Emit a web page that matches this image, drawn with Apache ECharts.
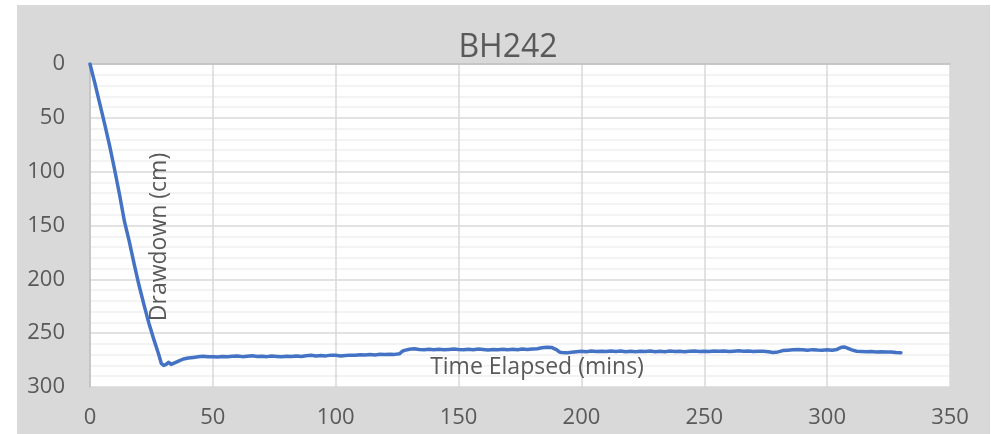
<!DOCTYPE html>
<html>
<head>
<meta charset="utf-8">
<script src="https://cdn.jsdelivr.net/npm/echarts@6/dist/echarts.min.js"></script>
<style>
  html, body { margin: 0; padding: 0; background: #ffffff; }
  #chart { width: 991px; height: 434px; }
</style>
</head>
<body>
<div id="chart"></div>
<script>
// Pumping test record for borehole BH242
const chartTitle = 'BH242';
const xAxisTitle = 'Time Elapsed (mins)';
const yAxisTitle = 'Drawdown (cm)';

// elapsed time, minutes
const timeMins = [
  0, 2, 4, 6, 8, 10, 12, 14, 16, 18, 20, 22, 24, 26, 28, 29, 30, 31, 32, 33, 34, 36, 38, 40,
  42, 44, 46, 48, 50, 52, 54, 56, 58, 60, 62, 64, 66, 68, 70, 72, 74, 76, 78, 80, 82, 84, 86, 88,
  90, 92, 94, 96, 98, 100, 102, 104, 106, 108, 110, 112, 114, 116, 118, 120, 122, 124, 126, 127, 128, 130,
  132, 134, 136, 138, 140, 142, 144, 146, 148, 150, 152, 154, 156, 158, 160, 162, 164, 166, 168, 170,
  172, 174, 176, 178, 180, 182, 184, 186, 188, 190, 191, 192, 194, 196, 198, 200, 202, 204, 206, 208,
  210, 212, 214, 216, 218, 220, 222, 224, 226, 228, 230, 232, 234, 236, 238, 240, 242, 244, 246, 248,
  250, 252, 254, 256, 258, 260, 262, 264, 266, 268, 270, 272, 274, 276, 278, 280, 282, 284, 286, 288,
  290, 292, 294, 296, 298, 300, 302, 304, 306, 307, 308, 310, 312, 314, 316, 318, 320, 322, 324, 326, 328, 330
];

// drawdown, cm
const drawdownCm = [
  0, 18, 37, 56, 76, 98, 121, 146, 165, 186, 206, 224, 241, 256, 270, 278, 280, 279, 277, 279, 278, 276, 274, 273,
  272.5, 272, 271.5, 272, 271.8, 272.2, 271.6, 272, 271.5, 271.2, 271.8, 271.4, 271, 271.6, 271.4, 271.8, 271.2, 271.6, 271.9, 271.5, 271.7, 271.2, 271.6, 271,
  270.6, 271.2, 270.8, 271.1, 270.4, 270.6, 271.2, 270.8, 270.4, 270.6, 270.1, 270.3, 269.8, 270.2, 269.6, 269.8, 269.5, 269.7, 269.2, 267, 266, 265,
  264.4, 265.1, 265.4, 264.9, 265.3, 265, 265.5, 265.1, 264.7, 265.2, 265.5, 265, 265.3, 264.8, 265.2, 265.6, 265.1, 265.4, 264.9, 265.3,
  265, 265.4, 264.8, 265.1, 264.6, 264.4, 263.6, 263, 263.4, 265.5, 267.5, 268, 268.3, 267.8, 267.2, 266.8, 267.2, 266.6, 267, 266.7,
  267.1, 266.5, 267, 266.6, 267.2, 266.8, 267.2, 266.7, 267, 266.6, 267.3, 266.9, 267.2, 266.6, 267, 266.8, 267.3, 266.9, 266.6, 267.1,
  266.8, 267, 266.5, 266.9, 266.6, 267.1, 266.8, 266.4, 266.8, 266.5, 267, 266.7, 266.9, 267.3, 268, 267.4, 266.2, 265.8, 265.5, 265.2,
  265.4, 265.9, 265.3, 265.7, 265.9, 265.5, 265.9, 265.1, 263, 262.8, 263.6, 265.5, 266.8, 267, 267.3, 267, 267.5, 267.2, 267.6, 267.4, 268, 268.3
];

const seriesData = timeMins.map((t, i) => [t, drawdownCm[i]]);

const labelFont = '"Open Sans", "Noto Sans", sans-serif';
const textGrey = '#595959';

const chart = echarts.init(document.getElementById('chart'), null, { renderer: 'canvas' });

chart.setOption({
  animation: false,
  backgroundColor: '#ffffff',
  title: {
    text: chartTitle,
    left: 503,
    textAlign: 'center',
    top: 27,
    textStyle: { fontFamily: labelFont, fontSize: 32, fontWeight: 'normal', color: textGrey }
  },
  graphic: [
    {
      type: 'rect', z: -10, silent: true,
      shape: { x: 17, y: 5, width: 973, height: 429 },
      style: { fill: '#d9d9d9' }
    },
    {
      type: 'text', z: 100, silent: true,
      x: 537, y: 367,
      style: {
        text: xAxisTitle, fill: textGrey, font: '23px ' + labelFont,
        align: 'center', verticalAlign: 'middle'
      }
    },
    {
      type: 'text', z: 100, silent: true,
      x: 159, y: 237, rotation: Math.PI / 2,
      style: {
        text: yAxisTitle, fill: textGrey, font: '23px ' + labelFont,
        align: 'center', verticalAlign: 'middle'
      }
    }
  ],
  grid: {
    left: 90, top: 64, right: 41, bottom: 47,
    show: true, backgroundColor: '#ffffff', borderWidth: 0
  },
  xAxis: [
    {
      type: 'value', min: 0, max: 350, interval: 50, position: 'bottom',
      axisLine: { show: false },
      axisTick: { show: false },
      axisLabel: { color: textGrey, fontFamily: labelFont, fontSize: 22, margin: 20 },
      splitLine: { show: true, lineStyle: { color: '#d9d9d9', width: 1.5 } }
    },
    {
      type: 'value', min: 0, max: 350, interval: 50, position: 'top',
      axisLine: { show: true, lineStyle: { color: '#bfbfbf', width: 1.5 } },
      axisTick: { show: false },
      axisLabel: { show: false },
      splitLine: { show: false }
    }
  ],
  yAxis: {
    type: 'value', inverse: true, min: 0, max: 300, interval: 50,
    axisLine: { show: true, lineStyle: { color: '#bfbfbf', width: 1.5 } },
    axisTick: { show: false },
    axisLabel: { color: textGrey, fontFamily: labelFont, fontSize: 22, margin: 25 },
    splitLine: { show: true, lineStyle: { color: '#d9d9d9', width: 1.5 } },
    minorTick: { show: false, splitNumber: 5 },
    minorSplitLine: { show: true, lineStyle: { color: '#efefef', width: 1.5 } }
  },
  series: [{
    type: 'line',
    xAxisIndex: 0,
    data: seriesData,
    showSymbol: false,
    symbol: 'none',
    lineStyle: { color: '#4472c4', width: 3.5, join: 'round', cap: 'round' },
    z: 5
  }]
});
</script>
</body>
</html>
